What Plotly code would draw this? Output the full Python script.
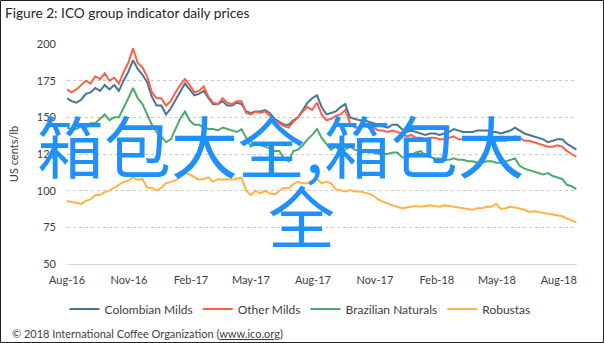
import pandas as pd
import plotly.graph_objects as go

# Weekly observation dates (Aug 2016 - Aug 2018)
dates = pd.date_range("2016-08-01", periods=109, freq="7D")

colombian_milds = [163, 161, 160, 162, 166, 167, 170, 168, 172, 169, 172, 168, 175, 181, 189, 183, 179, 174, 164, 158,
                   158, 152, 156, 162, 168, 173, 169, 165, 166, 168, 163, 159, 159, 161, 158, 158, 160, 159, 154, 153,
                   154, 154, 155, 153, 149, 147, 145, 145, 148, 150, 155, 160, 163, 165, 157, 152, 153, 154, 157, 159,
                   150, 149, 148, 148, 147, 146, 145, 144, 143, 145, 145, 142, 140, 141, 140, 139, 138, 139, 139, 138,
                   139, 140, 142, 141, 140, 140, 140, 141, 141, 141, 140, 140, 139, 140, 141, 143, 141, 139, 138, 137,
                   136, 135, 133, 134, 135, 135, 132, 130, 128]
other_milds = [169, 167, 169, 172, 175, 173, 178, 176, 180, 175, 177, 173, 181, 187, 197, 187, 184, 178, 167, 163,
               163, 158, 161, 167, 172, 176, 172, 167, 168, 171, 164, 160, 159, 163, 160, 159, 161, 161, 153, 152,
               154, 153, 154, 151, 148, 146, 144, 143, 147, 150, 154, 157, 155, 160, 152, 148, 149, 151, 152, 155,
               146, 143, 143, 144, 143, 143, 141, 141, 140, 141, 140, 139, 137, 138, 136, 136, 135, 136, 136, 135,
               135, 136, 137, 135, 135, 136, 136, 135, 136, 135, 135, 134, 134, 134, 135, 137, 136, 134, 134, 133,
               132, 131, 130, 130, 131, 130, 127, 125, 123]
brazilian_naturals = [143, 142, 142, 144, 143, 146, 146, 149, 152, 148, 150, 150, 156, 163, 170, 163, 159, 152, 145, 140,
                      137, 133, 135, 142, 149, 154, 148, 145, 145, 143, 142, 142, 141, 143, 142, 141, 140, 142, 136, 130,
                      132, 131, 130, 129, 127, 127, 122, 120, 127, 128, 131, 135, 138, 142, 136, 132, 128, 130, 127, 128,
                      130, 128, 127, 127, 126, 126, 125, 125, 125, 126, 126, 123, 122, 124, 126, 127, 124, 123, 122, 122,
                      121, 121, 122, 121, 121, 120, 120, 119, 119, 120, 120, 119, 119, 120, 121, 122, 117, 115, 114, 113,
                      112, 111, 112, 110, 109, 108, 104, 103, 101]
robustas = [93, 92.5, 91.5, 91, 93, 94, 97, 97, 99, 100, 102, 104, 106, 107, 109, 107.5, 108, 102, 102, 100,
            102, 105, 106, 107, 109, 112, 111, 109, 107.5, 108, 109, 106, 108, 107.5, 108, 107.5, 108.5, 109, 100, 97,
            100, 98, 100, 98, 97.5, 100, 102, 101.5, 104.5, 106, 105, 105, 107, 108, 105, 106, 105, 101, 100, 99.5,
            100.5, 99.5, 99.5, 99, 98, 96.5, 94, 92.5, 91, 90, 89, 88, 88.5, 89, 89.5, 89, 89.5, 90, 89.5, 89,
            90, 89.5, 89, 88.5, 88, 87, 87, 88, 88, 89, 89, 91, 87.5, 88, 89, 88.5, 88, 87, 85.5, 86,
            85.5, 85, 84.5, 84, 83.5, 82.5, 81, 79.5, 78.5]

series_names = ["Colombian Milds", "Other Milds", "Brazilian Naturals", "Robustas"]
series_values = [colombian_milds, other_milds, brazilian_naturals, robustas]
series_colors = ["#4a7591", "#ff5e47", "#4caa6c", "#ffb347"]

title_text = "Figure 2: ICO group indicator daily prices"
y_title = "US cents/lb"
footer_text = "© 2018 International Coffee Organization (<span style='text-decoration:underline'>www.ico.org</span>)"
overlay_line1 = "箱包大全,箱包大"
overlay_line2 = "全"

W, H = 604, 343
L, R, T, B = 67, 27, 44, 79
pw, ph = W - L - R, H - T - B


def px(x):
    return (x - L) / pw


def py(y):
    return (H - B - y) / ph


fig = go.Figure()
for name, vals, col in zip(series_names, series_values, series_colors):
    fig.add_trace(go.Scatter(x=dates, y=vals, name=name, mode="lines",
                             line=dict(color=col, width=2)))

font_main = "Lato, 'Open Sans', sans-serif"

fig.update_layout(
    width=W, height=H,
    margin=dict(l=L, r=R, t=T, b=B),
    paper_bgcolor="white", plot_bgcolor="white",
    font=dict(family=font_main, color="#404040", size=11),
    title=dict(text=title_text, x=5 / W, xanchor="left", xref="container",
               y=1 - 13 / H, yanchor="middle", yref="container",
               font=dict(size=13.7, color="#262626", family=font_main)),
    showlegend=True,
    legend=dict(orientation="h", x=px(300), xanchor="center", y=py(309), yanchor="middle",
                font=dict(size=12, color="#404040"), bgcolor="rgba(0,0,0,0)",
                itemwidth=30),
    xaxis=dict(type="date", range=["2016-08-01", "2018-08-28"], tick0="2016-08-01", dtick="M3",
               tickformat="%b-%y", showgrid=False, showline=True, linecolor="#d9d9d9", linewidth=1,
               ticks="", ticklabelstandoff=6, tickfont=dict(size=11, color="#404040"), zeroline=False),
    yaxis=dict(range=[50, 200], tick0=50, dtick=25, showgrid=True, gridcolor="#c8c8c8",
               griddash="dot", gridwidth=1, showline=False, zeroline=False, ticks="",
               ticklabelstandoff=10, tickfont=dict(size=11, color="#404040"),
               title=dict(text=y_title, standoff=16, font=dict(size=11, color="#404040"))),
)

fig.add_annotation(text=overlay_line1, xref="paper", yref="paper", x=px(35), y=py(143),
                   xanchor="left", yanchor="middle", showarrow=False,
                   font=dict(family="Noto Sans CJK SC", size=67, color="#1e90ff"))
fig.add_annotation(text=overlay_line2, xref="paper", yref="paper", x=px(301), y=py(213),
                   xanchor="center", yanchor="middle", showarrow=False,
                   font=dict(family="Noto Sans CJK SC", size=67, color="#1e90ff"))
fig.add_annotation(text=footer_text, xref="paper", yref="paper", x=px(10), y=py(333),
                   xanchor="left", yanchor="middle", showarrow=False,
                   font=dict(size=11, color="#404040"))

fig.add_shape(type="rect", xref="paper", yref="paper",
              x0=px(0.5), x1=px(603.5), y0=py(342.5), y1=py(0.5),
              line=dict(color="#222222", width=1), fillcolor="rgba(0,0,0,0)", layer="above")

fig.write_html("out.html")
